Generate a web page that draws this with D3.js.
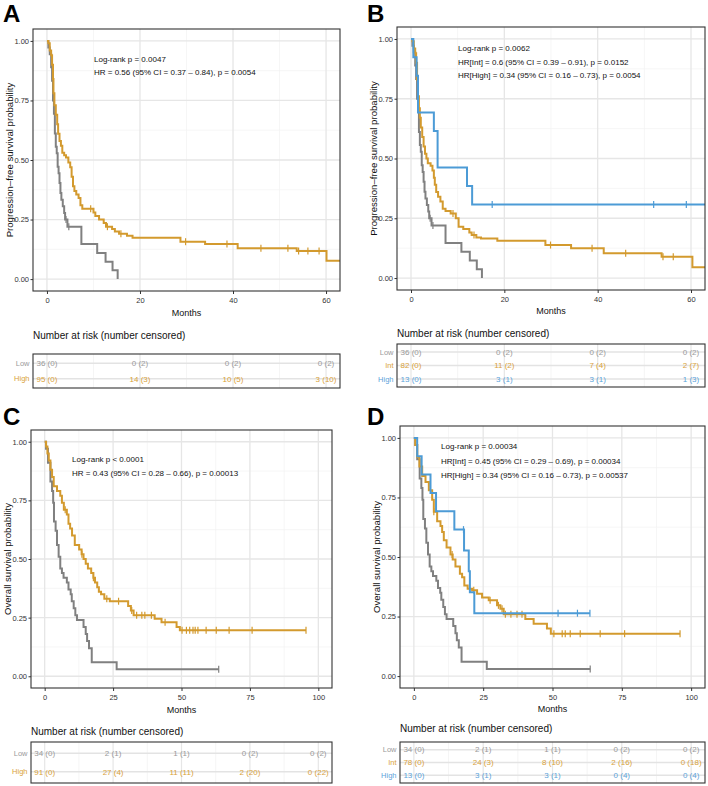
<!DOCTYPE html>
<html><head><meta charset="utf-8">
<script src="https://cdn.jsdelivr.net/npm/d3@7"></script>
<style>
body{margin:0;background:#fff;}
text{font-family:"Liberation Sans",Arial,Helvetica,sans-serif;}
</style>
</head><body>
<svg id="chart" width="708" height="786"></svg>
<script>
// ---------------- DATA ----------------
// PFS, Low group (panels A & B)
const pfsLowTime = [0, 0.3, 0.6, 0.9, 1.1, 1.3, 1.5, 1.7, 1.9, 2.1, 2.3, 2.5, 2.7, 2.9, 3.1, 3.4, 3.7, 3.9, 4.4, 7.4, 10.8, 12.6, 14.1, 15.2];
const pfsLowSurv = [1, 0.972, 0.944, 0.889, 0.833, 0.75, 0.694, 0.611, 0.556, 0.528, 0.472, 0.444, 0.403, 0.361, 0.333, 0.306, 0.278, 0.25, 0.22, 0.147, 0.11, 0.073, 0.037, 0];
const pfsLowCensor = [4.1, 4.7];
const pfsLowEnd = 15.2;
// PFS, High group (panel A)
const pfsHighTime = [0, 0.3, 0.6, 0.9, 1.1, 1.3, 1.4, 1.6, 1.9, 2.2, 2.4, 2.7, 3.0, 3.3, 3.7, 4.1, 4.6, 5.0, 5.3, 5.6, 5.9, 6.3, 6.8, 7.2, 7.6, 10.0, 10.4, 11.2, 12.2, 12.7, 14.0, 14.6, 15.5, 17.2, 18.4, 28.7, 34.0, 41.0, 53.7, 60.1];
const pfsHighSurv = [1, 0.99, 0.96, 0.94, 0.90, 0.84, 0.78, 0.73, 0.69, 0.65, 0.61, 0.58, 0.56, 0.53, 0.52, 0.51, 0.49, 0.47, 0.43, 0.39, 0.37, 0.355, 0.34, 0.31, 0.295, 0.28, 0.265, 0.25, 0.235, 0.22, 0.21, 0.20, 0.19, 0.182, 0.174, 0.157, 0.147, 0.13, 0.118, 0.077];
const pfsHighCensor = [9.4, 13.0, 15.9, 29.8, 38.7, 46, 51.8, 54.1, 56.1, 58.5];
const pfsHighEnd = 66;
// PFS, Int group (panel B)
const pfsIntTime = [0, 0.3, 0.6, 0.9, 1.1, 1.3, 1.5, 1.7, 1.9, 2.1, 2.4, 2.7, 3.0, 3.3, 3.6, 4.2, 4.6, 4.9, 5.1, 5.4, 5.8, 6.3, 6.8, 7.4, 8.5, 9.6, 10.2, 11.2, 12.5, 13.0, 14.0, 15.0, 18.5, 28.8, 34.3, 41.3, 53.7, 60.3];
const pfsIntSurv = [1, 0.99, 0.96, 0.94, 0.90, 0.83, 0.76, 0.71, 0.67, 0.63, 0.59, 0.55, 0.52, 0.50, 0.48, 0.47, 0.45, 0.42, 0.39, 0.36, 0.34, 0.32, 0.29, 0.28, 0.27, 0.25, 0.215, 0.205, 0.19, 0.18, 0.17, 0.165, 0.156, 0.138, 0.125, 0.104, 0.089, 0.045];
const pfsIntCensor = [9.0, 13.5, 29.9, 38.8, 46, 54.0, 56.2];
const pfsIntEnd = 66;
// PFS, High group (panel B)
const pfsHigh3Time = [0, 0.5, 1.2, 1.5, 4.9, 5.7, 12.0, 13.1];
const pfsHigh3Surv = [1, 0.923, 0.846, 0.692, 0.615, 0.462, 0.385, 0.308];
const pfsHigh3Censor = [17.4, 52, 59];
const pfsHigh3End = 66;

// OS, Low group (panels C & D)
const osLowTime = [0, 0.5, 1.2, 2.1, 2.7, 3.1, 3.4, 4.0, 4.5, 5.1, 5.7, 6.3, 6.9, 8.1, 8.7, 9.5, 9.9, 10.6, 11.2, 11.8, 14.2, 15.0, 15.5, 16.2, 17.2, 26.3];
const osLowSurv = [1, 0.97, 0.91, 0.83, 0.79, 0.74, 0.66, 0.62, 0.56, 0.51, 0.46, 0.44, 0.42, 0.40, 0.37, 0.35, 0.32, 0.29, 0.26, 0.24, 0.21, 0.18, 0.15, 0.12, 0.06, 0.03];
const osLowCensor = [63.6];
const osLowEnd = 63.6;
// OS, High group (panel C)
const osHighTime = [0, 0.5, 1.0, 1.5, 2.1, 2.7, 3.3, 4.5, 5.7, 6.3, 7.0, 8.1, 8.7, 9.3, 10.0, 11.0, 12.6, 13.5, 14.2, 15.0, 15.8, 17.0, 17.8, 18.4, 19.2, 19.8, 20.6, 21.8, 23.8, 30.5, 31.5, 32.5, 40.2, 42.7, 48.2, 49.4];
const osHighSurv = [1, 0.98, 0.95, 0.92, 0.88, 0.85, 0.81, 0.79, 0.77, 0.74, 0.71, 0.69, 0.65, 0.63, 0.60, 0.56, 0.54, 0.52, 0.50, 0.48, 0.46, 0.44, 0.42, 0.40, 0.38, 0.36, 0.35, 0.33, 0.32, 0.30, 0.28, 0.26, 0.245, 0.23, 0.21, 0.196];
const osHighCensor = [7.5, 13.6, 17.8, 22.7, 27, 31.8, 33.6, 35.5, 36.6, 39, 44, 50.2, 51.8, 53, 54.2, 55, 56, 59, 62.7, 67.4, 75.8, 95.5];
const osHighEnd = 95.5;
// OS, Int group (panel D)
const osIntTime = [0, 0.5, 1.2, 2.0, 3.0, 4.2, 5.4, 6.6, 7.2, 8.4, 9.6, 10.2, 10.8, 11.8, 13.2, 14.0, 15.0, 16.6, 17.4, 18.2, 19.4, 21.0, 22.8, 24.6, 27.0, 30.0, 31.2, 32.4, 40.2, 43.2, 48.0, 49.4];
const osIntSurv = [1, 0.97, 0.92, 0.88, 0.84, 0.815, 0.78, 0.74, 0.69, 0.65, 0.63, 0.605, 0.57, 0.54, 0.51, 0.49, 0.46, 0.43, 0.415, 0.38, 0.367, 0.36, 0.346, 0.33, 0.318, 0.297, 0.283, 0.26, 0.24, 0.22, 0.20, 0.178];
const osIntCensor = [7.2, 13.8, 21.6, 27.5, 30.5, 31.8, 33, 35, 37.2, 39, 50.5, 53.5, 54.6, 56.4, 60, 67.2, 76, 96];
const osIntEnd = 96;
// OS, High group (panel D)
const osHigh3Time = [0, 1.2, 2.8, 6.0, 8.0, 14.6, 18.1, 19.8, 20.2, 21.8];
const osHigh3Surv = [1, 0.923, 0.846, 0.769, 0.692, 0.615, 0.527, 0.44, 0.352, 0.264];
const osHigh3Censor = [17.9, 52, 59, 63.5];
const osHigh3End = 63.5;

// axis ticks
const pfsTicks = [0, 20, 40, 60];
const pfsMinor = [10, 30, 50];
const osTicks = [0, 25, 50, 75, 100];
const osMinor = [12.5, 37.5, 62.5, 87.5];
const survTicks = [0, 0.25, 0.5, 0.75, 1];
const survMinor = [0.125, 0.375, 0.625, 0.875];

// risk tables
const riskA_Low = ["36 (0)", "0 (2)", "0 (2)", "0 (2)"];
const riskA_High = ["95 (0)", "14 (3)", "10 (5)", "3 (10)"];
const riskB_Low = ["36 (0)", "0 (2)", "0 (2)", "0 (2)"];
const riskB_Int = ["82 (0)", "11 (2)", "7 (4)", "2 (7)"];
const riskB_High = ["13 (0)", "3 (1)", "3 (1)", "1 (3)"];
const riskC_Low = ["34 (0)", "2 (1)", "1 (1)", "0 (2)", "0 (2)"];
const riskC_High = ["91 (0)", "27 (4)", "11 (11)", "2 (20)", "0 (22)"];
const riskD_Low = ["34 (0)", "2 (1)", "1 (1)", "0 (2)", "0 (2)"];
const riskD_Int = ["78 (0)", "24 (3)", "8 (10)", "2 (16)", "0 (18)"];
const riskD_High = ["13 (0)", "3 (1)", "3 (1)", "0 (4)", "0 (4)"];

// annotations
const annotA = ["Log-rank p = 0.0047", "HR = 0.56 (95% CI = 0.37 \u2013 0.84), p = 0.0054"];
const annotB = ["Log-rank p = 0.0062", "HR[Int] = 0.6 (95% CI = 0.39 \u2013 0.91), p = 0.0152", "HR[High] = 0.34 (95% CI = 0.16 \u2013 0.73), p = 0.0054"];
const annotC = ["Log-rank p < 0.0001", "HR = 0.43 (95% CI = 0.28 \u2013 0.66), p = 0.00013"];
const annotD = ["Log-rank p = 0.00034", "HR[Int] = 0.45 (95% CI = 0.29 \u2013 0.69), p = 0.00034", "HR[High] = 0.34 (95% CI = 0.16 \u2013 0.73), p = 0.00537"];

// ---------------- STYLE ----------------
const COL = {
  Low: "#808080", High: "#D39A2E", Int: "#D39A2E", Blue: "#4C9BD6",
  tLow: "#9a9a9a", tOr: "#D9A23A", tBlue: "#5BA3DB"
};

const svg = d3.select("#chart");

function mk(T, S, C, end, color) { return {T, S, C, end, color}; }

function drawPanel(p) {
  const g = svg.append("g");
  const x = d3.scaleLinear().domain(p.xDomain).range([p.left, p.right]);
  const y = d3.scaleLinear().domain([-0.05, 1.05]).range([p.bottom, p.top]);

  // grid
  g.selectAll(".vmin").data(p.xMinor).join("line")
    .attr("x1", d => x(d)).attr("x2", d => x(d)).attr("y1", p.top).attr("y2", p.bottom)
    .attr("stroke", "#f2f2f2").attr("stroke-width", 0.7);
  g.selectAll(".hmin").data(survMinor).join("line")
    .attr("y1", d => y(d)).attr("y2", d => y(d)).attr("x1", p.left).attr("x2", p.right)
    .attr("stroke", "#f2f2f2").attr("stroke-width", 0.7);
  g.selectAll(".vmaj").data(p.xTicks).join("line")
    .attr("x1", d => x(d)).attr("x2", d => x(d)).attr("y1", p.top).attr("y2", p.bottom)
    .attr("stroke", "#e6e6e6").attr("stroke-width", 1.3);
  g.selectAll(".hmaj").data(survTicks).join("line")
    .attr("y1", d => y(d)).attr("y2", d => y(d)).attr("x1", p.left).attr("x2", p.right)
    .attr("stroke", "#e6e6e6").attr("stroke-width", 1.3);

  // clip
  const cid = "clip" + p.id;
  svg.append("clipPath").attr("id", cid).append("rect")
    .attr("x", p.left).attr("y", p.top).attr("width", p.right - p.left).attr("height", p.bottom - p.top);
  const cg = g.append("g").attr("clip-path", `url(#${cid})`);

  const line = d3.line().x(d => x(d[0])).y(d => y(d[1])).curve(d3.curveStepAfter);
  p.curves.forEach(c => {
    const pts = c.T.map((t, i) => [t, c.S[i]]);
    pts.push([c.end, c.S[c.S.length - 1]]);
    cg.append("path").attr("d", line(pts)).attr("fill", "none")
      .attr("stroke", c.color).attr("stroke-width", 2).attr("stroke-linejoin", "miter");
    cg.selectAll(null).data(c.C).join("line")
      .attr("x1", d => x(d)).attr("x2", d => x(d))
      .attr("y1", d => y(c.S[d3.bisectRight(c.T, d) - 1]) - 3.5)
      .attr("y2", d => y(c.S[d3.bisectRight(c.T, d) - 1]) + 3.5)
      .attr("stroke", c.color).attr("stroke-width", 1.2);
  });

  // frame
  g.append("rect").attr("x", p.left).attr("y", p.top)
    .attr("width", p.right - p.left).attr("height", p.bottom - p.top)
    .attr("fill", "none").attr("stroke", "#333").attr("stroke-width", 1.1);

  // axes
  const ax = g.append("g").attr("transform", `translate(0,${p.bottom})`)
    .call(d3.axisBottom(x).tickValues(p.xTicks).tickSize(3).tickPadding(3.5).tickFormat(d3.format("d")));
  const ay = g.append("g").attr("transform", `translate(${p.left},0)`)
    .call(d3.axisLeft(y).tickValues(survTicks).tickSize(2.5).tickPadding(1.5).tickFormat(d3.format(".2f")));
  [ax, ay].forEach(a => {
    a.select(".domain").remove();
    a.selectAll("line").attr("stroke", "#333");
    a.selectAll("text").attr("font-size", 7.5).attr("fill", "#333")
      .attr("font-family", '"Liberation Sans",Arial,sans-serif');
  });

  // titles
  g.append("text").attr("x", (p.left + p.right) / 2).attr("y", p.monthsY)
    .attr("text-anchor", "middle").attr("font-size", 9).attr("fill", "#111").text("Months");
  g.append("text").attr("transform", `translate(${p.yTitleX},${(p.top + p.bottom) / 2}) rotate(-90)`)
    .attr("text-anchor", "middle").attr("font-size", 9.6).attr("fill", "#111").text(p.yTitle);
  g.append("text").attr("x", p.letterX).attr("y", p.letterY).attr("font-size", 24)
    .attr("font-weight", "bold").attr("fill", "#000").text(p.letter);

  // annotations
  g.selectAll(null).data(p.annot).join("text")
    .attr("x", p.annX).attr("y", (d, i) => p.annY + i * p.annDy)
    .attr("font-size", 8).attr("fill", "#111").text(d => d);

  // risk table
  const rt = p.risk;
  g.append("text").attr("x", p.left).attr("y", rt.titleY).attr("font-size", 10)
    .attr("fill", "#111").text("Number at risk (number censored)");
  const ry = d3.scalePoint().domain(rt.groups).range([rt.top, rt.bottom]).padding(0.6);
  g.selectAll(null).data(p.xMinor).join("line")
    .attr("x1", d => x(d)).attr("x2", d => x(d)).attr("y1", rt.top).attr("y2", rt.bottom)
    .attr("stroke", "#f0f0f0").attr("stroke-width", 0.7);
  g.selectAll(null).data(p.xTicks).join("line")
    .attr("x1", d => x(d)).attr("x2", d => x(d)).attr("y1", rt.top).attr("y2", rt.bottom)
    .attr("stroke", "#e6e6e6").attr("stroke-width", 1.2);
  g.selectAll(null).data(rt.groups).join("line")
    .attr("y1", d => ry(d)).attr("y2", d => ry(d)).attr("x1", p.left).attr("x2", p.right)
    .attr("stroke", "#e3e3e3").attr("stroke-width", 1.4);
  g.append("rect").attr("x", p.left).attr("y", rt.top)
    .attr("width", p.right - p.left).attr("height", rt.bottom - rt.top)
    .attr("fill", "none").attr("stroke", "#333").attr("stroke-width", 1.1);
  rt.groups.forEach((grp, gi) => {
    g.append("text").attr("x", p.left - 3.5).attr("y", ry(grp)).attr("dy", "0.35em")
      .attr("text-anchor", "end").attr("font-size", 7.5).attr("fill", rt.colors[gi]).text(grp);
    g.selectAll(null).data(rt.values[gi]).join("text")
      .attr("x", (d, i) => x(p.xTicks[i])).attr("y", ry(grp)).attr("dy", "0.35em")
      .attr("text-anchor", "middle").attr("font-size", 8).attr("fill", rt.colors[gi]).text(d => d);
  });
}

drawPanel({
  id: "A", letter: "A", letterX: 3, letterY: 22,
  left: 33, right: 340, top: 29, bottom: 291, xDomain: [-3, 63],
  xTicks: pfsTicks, xMinor: pfsMinor, monthsY: 316, yTitleX: 13,
  yTitle: "Progression\u2013free survival probability",
  annot: annotA, annX: 94, annY: 62, annDy: 13.3,
  curves: [mk(pfsLowTime, pfsLowSurv, pfsLowCensor, pfsLowEnd, COL.Low),
           mk(pfsHighTime, pfsHighSurv, pfsHighCensor, pfsHighEnd, COL.High)],
  risk: {titleY: 339, top: 354, bottom: 388, groups: ["Low", "High"],
         colors: [COL.tLow, COL.tOr], values: [riskA_Low, riskA_High]}
});
drawPanel({
  id: "B", letter: "B", letterX: 367, letterY: 22,
  left: 397, right: 705, top: 27, bottom: 290, xDomain: [-3, 63],
  xTicks: pfsTicks, xMinor: pfsMinor, monthsY: 314, yTitleX: 377,
  yTitle: "Progression\u2013free survival probability",
  annot: annotB, annX: 458, annY: 51, annDy: 13.5,
  curves: [mk(pfsLowTime, pfsLowSurv, pfsLowCensor, pfsLowEnd, COL.Low),
           mk(pfsIntTime, pfsIntSurv, pfsIntCensor, pfsIntEnd, COL.Int),
           mk(pfsHigh3Time, pfsHigh3Surv, pfsHigh3Censor, pfsHigh3End, COL.Blue)],
  risk: {titleY: 337, top: 344, bottom: 387, groups: ["Low", "Int", "High"],
         colors: [COL.tLow, COL.tOr, COL.tBlue], values: [riskB_Low, riskB_Int, riskB_High]}
});
drawPanel({
  id: "C", letter: "C", letterX: 3, letterY: 425,
  left: 31, right: 332, top: 430, bottom: 688, xDomain: [-5, 105],
  xTicks: osTicks, xMinor: osMinor, monthsY: 713, yTitleX: 11,
  yTitle: "Overall survival probability",
  annot: annotC, annX: 72, annY: 462, annDy: 13.5,
  curves: [mk(osLowTime, osLowSurv, osLowCensor, osLowEnd, COL.Low),
           mk(osHighTime, osHighSurv, osHighCensor, osHighEnd, COL.High)],
  risk: {titleY: 735, top: 742, bottom: 783, groups: ["Low", "High"],
         colors: [COL.tLow, COL.tOr], values: [riskC_Low, riskC_High]}
});
drawPanel({
  id: "D", letter: "D", letterX: 367, letterY: 425,
  left: 400, right: 705, top: 426, bottom: 688, xDomain: [-5, 105],
  xTicks: osTicks, xMinor: osMinor, monthsY: 712, yTitleX: 380,
  yTitle: "Overall survival probability",
  annot: annotD, annX: 441, annY: 449, annDy: 14.5,
  curves: [mk(osLowTime, osLowSurv, osLowCensor, osLowEnd, COL.Low),
           mk(osIntTime, osIntSurv, osIntCensor, osIntEnd, COL.Int),
           mk(osHigh3Time, osHigh3Surv, osHigh3Censor, osHigh3End, COL.Blue)],
  risk: {titleY: 732, top: 742, bottom: 783, groups: ["Low", "Int", "High"],
         colors: [COL.tLow, COL.tOr, COL.tBlue], values: [riskD_Low, riskD_Int, riskD_High]}
});
</script>
</body></html>
